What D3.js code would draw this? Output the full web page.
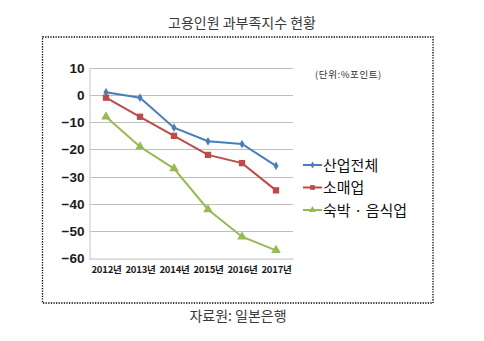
<!DOCTYPE html>
<html>
<head>
<meta charset="utf-8">
<script src="https://cdn.jsdelivr.net/npm/d3@7"></script>
<style>
  body { margin: 0; background: #fff; }
  svg { display: block; }
</style>
</head>
<body>
<svg id="chart" width="484" height="341"></svg>
<script>
// Employment shortage index by sector (unit: % points)
const years = ["2012년", "2013년", "2014년", "2015년", "2016년", "2017년"];
const allIndustries = [1, -1, -12, -17, -18, -26];
const retail = [-1, -8, -15, -22, -25, -35];
const lodgingFood = [-8, -19, -27, -42, -52, -57];
const yTicks = [10, 0, -10, -20, -30, -40, -50, -60];

const seriesNames = ["산업전체", "소매업", "숙박 · 음식업"];
const seriesValues = [allIndustries, retail, lodgingFood];
const seriesColors = ["#4a7ebb", "#be4b48", "#98b954"];
const seriesMarkers = [d3.symbolDiamond, d3.symbolSquare, d3.symbolTriangle];
const markerSizes = [22, 40, 40];
const legendMarkerSizes = [14, 22, 22];

const svg = d3.select("#chart");
const kr = "'Noto Sans CJK KR', 'Noto Sans', sans-serif";

// Title and source
svg.append("text").attr("x", 242).attr("y", 28).attr("text-anchor", "middle")
  .attr("font-family", kr).attr("font-size", 14).attr("fill", "#3a3a3a")
  .text("고용인원 과부족지수 현황");
svg.append("text").attr("x", 238).attr("y", 321).attr("text-anchor", "middle")
  .attr("font-family", kr).attr("font-size", 14).attr("fill", "#3a3a3a")
  .text("자료원: 일본은행");

// Dotted frame
svg.append("rect").attr("x", 42.5).attr("y", 37).attr("width", 390.5).attr("height", 266)
  .attr("fill", "none").attr("stroke", "#000").attr("stroke-width", 1.3)
  .attr("stroke-dasharray", "1.3,1.3");

const plot = { left: 89, right: 293, top: 67.7, bottom: 258.5 };

const x = d3.scalePoint().domain(years).range([plot.left, plot.right]).padding(0.5);
const y = d3.scaleLinear().domain([-60, 10]).range([plot.bottom, plot.top]);

// Gridlines
svg.append("g").selectAll("line").data(yTicks).join("line")
  .attr("x1", plot.left).attr("x2", plot.right)
  .attr("y1", d => Math.round(y(d)) + 0.5).attr("y2", d => Math.round(y(d)) + 0.5)
  .attr("stroke", d => d === -60 ? "#d9d9d9" : "#bfbfbf").attr("stroke-width", 1);

// Y axis
const yAxis = svg.append("g").attr("transform", `translate(${plot.left + 0.5},0)`)
  .call(d3.axisLeft(y).tickValues(yTicks).tickSize(0).tickPadding(5));
yAxis.select(".domain").attr("stroke", "#d9d9d9").attr("stroke-width", 1.5);
yAxis.selectAll("text").attr("font-family", "'Liberation Sans', Arial, sans-serif")
  .attr("font-size", 13.5).attr("font-weight", "bold").attr("fill", "#1a1a1a");

// X axis
const xAxis = svg.append("g").attr("transform", `translate(0,${plot.bottom})`)
  .call(d3.axisBottom(x).tickSize(0).tickPadding(8));
xAxis.select(".domain").attr("stroke", "#d9d9d9").attr("stroke-width", 1.5);
xAxis.selectAll("text").attr("font-family", kr)
  .attr("font-size", 9.5).attr("font-weight", "bold").attr("fill", "#1a1a1a")
  .attr("letter-spacing", "-0.2px");

// Series lines and markers
const line = d3.line().x((d, i) => x(years[i])).y(d => y(d));
seriesValues.forEach((vals, s) => {
  svg.append("path").datum(vals).attr("d", line)
    .attr("fill", "none").attr("stroke", seriesColors[s]).attr("stroke-width", 2);
  svg.append("g").selectAll("path").data(vals).join("path")
    .attr("d", d3.symbol().type(seriesMarkers[s]).size(markerSizes[s]))
    .attr("transform", (d, i) => `translate(${x(years[i])},${y(d)})`)
    .attr("fill", seriesColors[s]);
});

// Unit note
svg.append("text").attr("x", 315).attr("y", 78)
  .attr("font-family", kr).attr("font-size", 9.5).attr("fill", "#333")
  .attr("letter-spacing", "0.6px")
  .text("(단위:%포인트)");

// Legend
const legend = svg.append("g");
seriesNames.forEach((name, s) => {
  const ly = 165 + s * 22.5;
  legend.append("line").attr("x1", 303).attr("x2", 322).attr("y1", ly).attr("y2", ly)
    .attr("stroke", seriesColors[s]).attr("stroke-width", 2);
  legend.append("path")
    .attr("d", d3.symbol().type(seriesMarkers[s]).size(legendMarkerSizes[s]))
    .attr("transform", `translate(312.5,${ly})`).attr("fill", seriesColors[s]);
  legend.append("text").attr("x", 323).attr("y", ly + 5.5)
    .attr("font-family", kr).attr("font-size", 15).attr("fill", "#111")
    .text(name);
});
</script>
</body>
</html>
